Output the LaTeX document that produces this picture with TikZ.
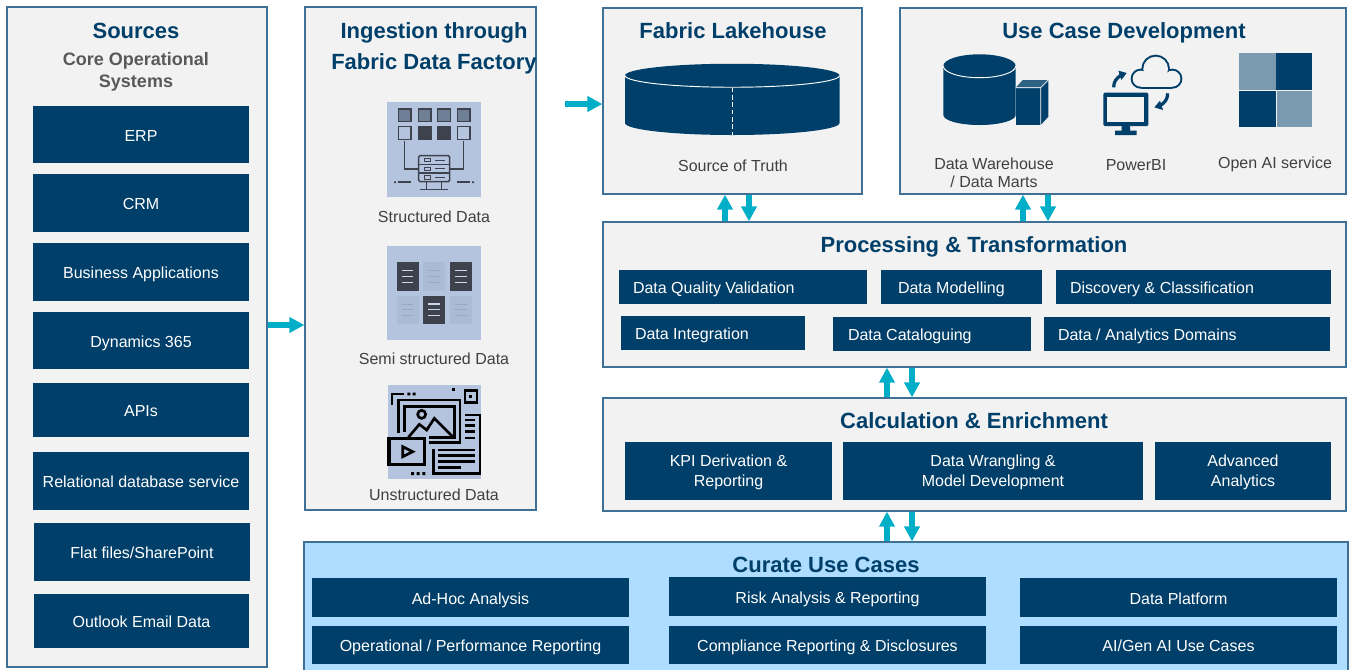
\documentclass[tikz,border=0pt]{standalone}
\usepackage{fontspec}
\setmainfont{Liberation Sans}
\usetikzlibrary{arrows.meta,calc}
\definecolor{navy}{HTML}{003F69}
\definecolor{panelfill}{HTML}{F2F2F2}
\definecolor{panelline}{HTML}{3F7096}
\definecolor{curatefill}{HTML}{AEDDFF}
\definecolor{teal}{HTML}{00AEC7}
\definecolor{labelgrey}{HTML}{404040}
\definecolor{subgrey}{HTML}{595959}
\definecolor{iconbg}{HTML}{B4C4DF}
\definecolor{midblue}{HTML}{7A9AAF}
\definecolor{cubetop}{HTML}{2F6185}
\definecolor{ink}{HTML}{3E424C}
\definecolor{gridink}{HTML}{6F7F95}
\definecolor{fadeink}{HTML}{ABBBD6}
\definecolor{fadeline}{HTML}{98A8C2}
\tikzset{
  strutted/.style={execute at begin node=\strut,execute at end node=\strut},
  panelbox/.style={draw=panelline,fill=panelfill,line width=.9pt,inner sep=0pt},
  dbox/.style={text=white,font=\fontsize{12}{15}\selectfont,inner sep=0pt,align=center,strutted},
  titletext/.style={text=navy,font=\bfseries\fontsize{16.5}{23.25}\selectfont,align=center,inner sep=0pt,strutted,yshift=-1.3pt},
  subtext/.style={text=subgrey,font=\bfseries\fontsize{13.5}{16.5}\selectfont,align=center,inner sep=0pt,strutted,yshift=-2.2pt},
  labeltext/.style={text=labelgrey,font=\fontsize{12}{13.5}\selectfont,align=center,inner sep=0pt,strutted,yshift=-2pt},
  flow/.style={draw=teal,line width=4pt,-{Triangle[length=11.25pt,width=11.25pt]}},
  zoomed/.style={x=0.25pt,y=-0.25pt},
  thickink/.style={draw=black,line width=2pt,line cap=butt},
  thinink/.style={draw=ink,line width=1.1pt},
}
\newcommand{\pbox}[6][panelbox]{%
  \pgfmathsetmacro\bw{(#4-#2)*0.75}\pgfmathsetmacro\bh{(#5-#3)*0.75}%
  \node[#1,minimum width=\bw pt,minimum height=\bh pt] (#6) at ({(#2+#4)/2},{(#3+#5)/2}) {};}
\newcommand{\dk}[6]{%
  \pgfmathsetmacro\bw{(#4-#2)*0.75}\pgfmathsetmacro\bh{(#5-#3)*0.75}%
  \node[fill=navy,minimum width=\bw pt,minimum height=\bh pt,inner sep=0pt] (#1) at ({(#2+#4)/2},{(#3+#5)/2}) {};
  \node[dbox,yshift=-2pt] (#1t) at (#1.center) {#6};}
\newcommand{\dl}[7][14]{%
  \pgfmathsetmacro\bw{(#5-#3)*0.75}\pgfmathsetmacro\bh{(#6-#4)*0.75}\pgfmathsetmacro\bi{#1*0.75}%
  \node[fill=navy,minimum width=\bw pt,minimum height=\bh pt,inner sep=0pt] (#2) at ({(#3+#5)/2},{(#4+#6)/2}) {};
  \node[dbox,anchor=west,xshift=\bi pt,yshift=-2pt] (#2t) at (#2.west) {#7};}
\begin{document}
\begin{tikzpicture}[x=0.75pt,y=-0.75pt]
\useasboundingbox (0,0) rectangle (1354,669);
% panels
\pbox{7}{7}{267}{667}{sources}
\pbox{305}{7}{536}{510}{ingest}
\pbox{603}{8}{862}{194}{lake}
\pbox{900}{8}{1346}{194}{usecase}
\pbox{603}{222}{1346}{367}{proc}
\pbox{603}{398}{1346}{511}{calcp}
\pbox[panelbox,fill=curatefill]{304}{542}{1348}{672}{curate}
% titles
\node[titletext] (tsrc) at (136,31) {Sources};
\node[subtext] (tcore) at (136,70) {Core Operational\\Systems};
\node[titletext] (ting) at (434,49) {Ingestion through\\Fabric Data Factory};
\node[titletext] (tlake) at (733,31) {Fabric Lakehouse};
\node[titletext] (tuse) at (1124,31) {Use Case Development};
\node[titletext] (tproc) at (974,245) {Processing \& Transformation};
\node[titletext] (tcalc) at (974,421) {Calculation \& Enrichment};
\node[titletext] (tcur) at (826,565) {Curate Use Cases};
% source boxes
\dk{erp}{33}{106}{249}{163}{ERP}
\dk{crm}{33}{174}{249}{232}{CRM}
\dk{bapp}{33}{243}{249}{301}{Business Applications}
\dk{dyn}{33}{312}{249}{369}{Dynamics 365}
\dk{apis}{33}{383}{249}{437}{APIs}
\dk{rds}{33}{452}{249}{510}{Relational database service}
\dk{flat}{34}{523}{250}{581}{Flat files/SharePoint}
\dk{mail}{34}{594}{249}{648}{Outlook Email Data}
% processing
\dl{dqv}{619}{270}{867}{304}{Data Quality Validation}
\dl[17]{dm}{881}{270}{1042}{304}{Data Modelling}
\dl{dcl}{1056}{270}{1331}{304}{Discovery \& Classification}
\dl{dint}{621}{316}{805}{350}{Data Integration}
\dl[15]{dcat}{833}{317}{1031}{351}{Data Cataloguing}
\dl{ddom}{1044}{317}{1330}{351}{Data / Analytics Domains}
% calculation
\dk{kpi}{625}{442}{832}{500}{KPI Derivation \&\\Reporting}
\dk{wrang}{843}{442}{1143}{500}{Data Wrangling \&\\Model Development}
\dk{adv}{1155}{442}{1331}{500}{Advanced\\Analytics}
% curate
\dk{adhoc}{312}{578}{629}{617}{Ad-Hoc Analysis}
\dk{risk}{669}{577}{986}{616}{Risk Analysis \& Reporting}
\dk{plat}{1020}{578}{1337}{617}{Data Platform}
\dk{oper}{312}{626}{629}{664}{Operational / Performance Reporting}
\dk{comp}{669}{626}{986}{664}{Compliance Reporting \& Disclosures}
\dk{aigen}{1020}{626}{1337}{664}{AI/Gen AI Use Cases}
% labels
\node[labeltext] (lstr) at (434,216) {Structured Data};
\node[labeltext] (lsemi) at (434,358) {Semi structured Data};
\node[labeltext] (luns) at (434,494) {Unstructured Data};
\node[labeltext] (ltruth) at (733,165) {Source of Truth};
\node[labeltext] (ldw) at (994,173) {Data Warehouse\\/ Data Marts};
\node[labeltext] (lpbi) at (1136,164) {PowerBI};
\node[labeltext] (lai) at (1275,162) {Open AI service};
% arrows
\coordinate (a1) at (0,325);
\draw[flow] (sources.east |- a1) -- (ingest.west |- a1);
\coordinate (a2) at (565,104);
\draw[flow] (a2) -- (lake.west |- a2);
\coordinate (u1) at (725,0); \coordinate (d1) at (749,0);
\draw[flow] (proc.north -| u1) -- (lake.south -| u1);
\draw[flow] (lake.south -| d1) -- (proc.north -| d1);
\coordinate (u2) at (1023,0); \coordinate (d2) at (1048,0);
\draw[flow] (proc.north -| u2) -- (usecase.south -| u2);
\draw[flow] (usecase.south -| d2) -- (proc.north -| d2);
\coordinate (u3) at (887,0); \coordinate (d3) at (912,0);
\draw[flow] (calcp.north -| u3) -- (proc.south -| u3);
\draw[flow] (proc.south -| d3) -- (calcp.north -| d3);
\draw[flow] (curate.north -| u3) -- (calcp.south -| u3);
\draw[flow] (calcp.south -| d3) -- (curate.north -| d3);
% lakehouse cylinder
\fill[navy] (625,75.5) arc[start angle=180,end angle=360,x radius=107.25,y radius=11.75]
  -- (839.5,123) arc[start angle=0,end angle=180,x radius=107.25,y radius=12] -- cycle;
\draw[white,line width=.7pt] (625,75.5) arc[start angle=180,end angle=0,x radius=107.25,y radius=11.75];
\draw[white,line width=.7pt,dash pattern=on 3.5pt off 2pt] (732,87.5) -- (732,135);
% warehouse cylinder
\fill[navy] (943.3,66) arc[start angle=180,end angle=360,x radius=36.2,y radius=11.7]
  -- (1015.7,115) arc[start angle=0,end angle=180,x radius=36.2,y radius=10] -- cycle;
\draw[white,line width=.7pt] (943.3,66) arc[start angle=180,end angle=0,x radius=36.2,y radius=11.7];
\fill[navy] (1015.7,87.7) rectangle (1040.7,125);
\fill[cubetop] (1015.7,87.7) -- (1022.7,80) -- (1048.3,80) -- (1040.7,87.7) -- cycle;
\fill[navy] (1040.7,87.7) -- (1048.3,80) -- (1048.3,116.7) -- (1040.7,125) -- cycle;
\draw[white,line width=.5pt] (1015.7,87.7) -- (1040.7,87.7) -- (1048.3,80) (1040.7,87.7) -- (1040.7,125);
% powerbi
\begin{scope}[shift={(900,0)},zoomed]
  \fill[navy,rounded corners=1pt] (610,278) rectangle (745,378);
  \fill[panelfill] (622,292) rectangle (733,365);
  \fill[navy] (665,378) rectangle (690,395) (645,392) rectangle (710,405);
  \foreach \cx/\cy/\r in {722/236/24,767/207/37,817/236/24}
    \draw[navy,line width=3pt] (\cx,\cy) circle[radius=\r];
  \draw[navy,line width=3pt] (722,260) -- (817,260);
  \foreach \cx/\cy/\r in {722/236/24,767/207/37,817/236/24}
    \fill[panelfill] (\cx,\cy) circle[radius=\r];
  \fill[panelfill] (722,230) rectangle (817,260);
  \draw[navy,line width=2.4pt] (641,262) to[out=90,in=215] (662,226);
  \fill[navy] (655,212) -- (680,219) -- (664,240) -- cycle;
  \draw[navy,line width=2.4pt] (803,280) to[out=-90,in=35] (782,316);
  \fill[navy] (789,330) -- (763,322) -- (780,302) -- cycle;
  % open ai
  \fill[midblue] (1018,160) rectangle (1127,270);
  \fill[navy] (1127,160) rectangle (1237,270);
  \fill[navy] (1018,272) rectangle (1129,380);
  \fill[midblue] (1130,272) rectangle (1237,380);
\end{scope}
% ingestion icons
\begin{scope}[shift={(300,90)},zoomed]
  \fill[iconbg] (261,36) rectangle (543,321);
  \foreach \x in {295,355,413,472}
    \draw[thinink,fill=gridink] (\x,57) rectangle ++(38,38);
  \draw[thinink] (295,110) rectangle ++(38,38) (472,110) rectangle ++(38,38);
  \draw[thinink,fill=ink] (355,110) rectangle ++(38,38);
  \draw[thinink,fill=ink] (413,110) rectangle ++(38,38);
  \draw[thinink] (313,152) -- (313,237) -- (355,237) (491,152) -- (491,237) -- (450,237);
  \draw[thinink,rounded corners=1pt] (356,197) rectangle (449,275);
  \draw[thinink] (356,223) -- (449,223) (356,249) -- (449,249);
  \foreach \y in {210,236,262} {
    \draw[thinink,line width=.7pt] (373,\y-5) rectangle (392,\y+5);
    \draw[thinink,line width=.7pt] (406,\y) -- (436,\y);
  }
  \draw[thinink] (380,275) -- (380,298) (425,275) -- (425,298) (360,298) -- (445,298);
  \draw[thinink] (295,276) -- (333,276) (470,276) -- (510,276);
  \fill[ink] (282,274) rectangle (288,279) (516,274) rectangle (522,279);
  % semi
  \fill[iconbg] (261,468) rectangle (543,750);
  \foreach \x/\y in {370/517,290/617,450/617} {
    \fill[fadeink] (\x,\y) rectangle ++(66,85);
    \foreach \d in {25,42,60} \draw[fadeline,line width=.6pt] (\x+16,\y+\d) -- ++(34,0);
  }
  \foreach \x/\y in {290/517,450/517,369/617} {
    \fill[ink] (\x,\y) rectangle ++(66,85);
    \foreach \d in {25,42,60} \draw[iconbg!70!white,line width=1pt] (\x+16,\y+\d) -- ++(34,0);
  }
  % unstructured
  \fill[iconbg] (264,885) rectangle (543,1167);
  \draw[thickink] (276,945) -- (276,912) -- (312,912);
  \fill[black] (322,908) rectangle (331,916) (338,908) rectangle (347,916);
  \fill[black] (456,894) rectangle (465,903);
  \draw[thickink] (495,902) rectangle (531,938);
  \fill[black] (507,915) rectangle (517,925);
  \draw[thickink] (295,1030) -- (295,930) -- (480,930) -- (480,1058) -- (388,1058);
  \draw[thickink] (313,1025) -- (313,950) -- (463,950) -- (463,1042) -- (388,1042);
  \draw[thickink] (365,973) circle[radius=12];
  \draw[thickink] (325,1042) -- (358,1003) -- (380,1020) -- (403,985) -- (460,1042);
  \draw[draw=black,line width=2.6pt,fill=iconbg] (267,1045) rectangle (374,1124);
  \draw[thickink] (308,1070) -- (308,1100) -- (338,1085) -- cycle;
  \fill[black] (333,1146) rectangle (342,1155) (350,1146) rectangle (359,1155) (367,1146) rectangle (376,1155);
  \draw[thickink] (495,975) -- (540,975) -- (540,1150) -- (400,1150) -- (400,1078);
  \foreach \y in {990,1007,1025,1044} \draw[thickink] (495,\y) -- (525,\y);
  \foreach \y in {1080,1097,1115} \draw[thickink] (415,\y) -- (525,\y);
  \draw[thickink] (415,1133) -- (482,1133);
\end{scope}
\end{tikzpicture}
\end{document}
